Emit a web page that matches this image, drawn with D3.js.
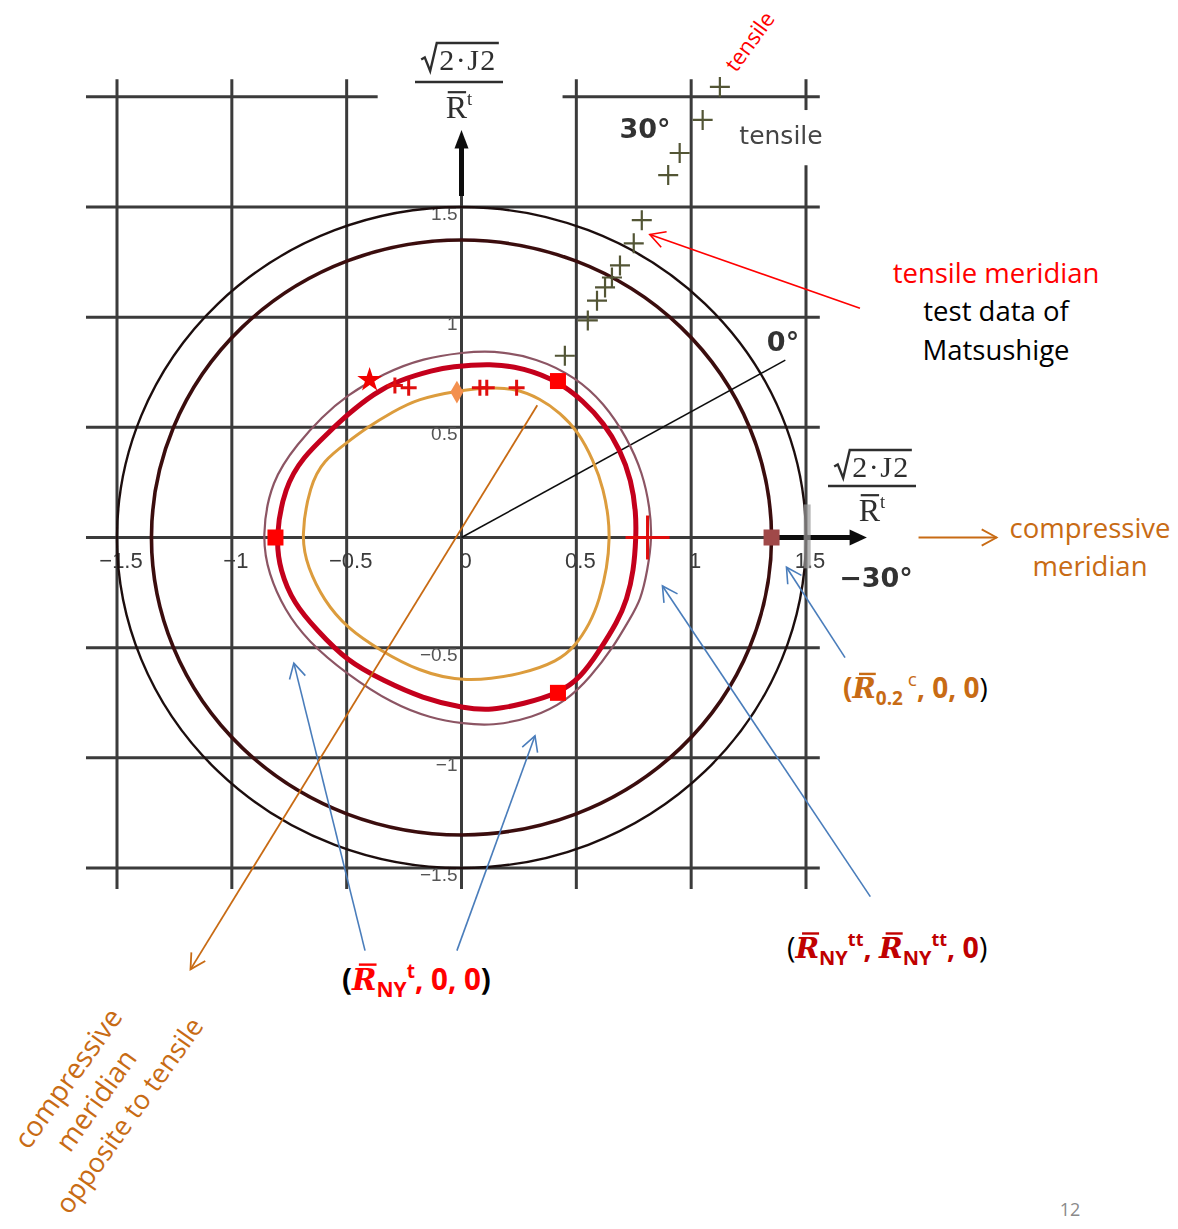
<!DOCTYPE html>
<html>
<head>
<meta charset="utf-8">
<script src="https://cdn.jsdelivr.net/npm/d3@7"></script>
<style>
  body { margin: 0; background: #fff; }
  svg { display: block; }
</style>
</head>
<body>
<svg id="chart" width="1178" height="1229"></svg>
<script>
// ---- grid and tick values (deviatoric plane, √(2·J2)/R̄t units) ----
const xTicks = [-1.5, -1, -0.5, 0, 0.5, 1, 1.5];
const yTicks = [-1.5, -1, -0.5, 0, 0.5, 1, 1.5, 2];
const xTickLabels = ["−1.5", "−1", "−0.5", "0", "0.5", "1", "1.5"];
const yTickValues = [-1.5, -1, -0.5, 0.5, 1, 1.5];
const yTickLabels = ["−1.5", "−1", "−0.5", "0.5", "1", "1.5"];

// reference circles
const circleRadii = [1.5, 1.35];

// yield loci, [x, y] points around the origin
const redLocus = [
  [-0.81, 0], [-0.79, -0.15], [-0.73, -0.30], [-0.63, -0.42], [-0.50, -0.56], [-0.34, -0.65],
  [-0.17, -0.73], [0.01, -0.775], [0.13, -0.785], [0.27, -0.755], [0.42, -0.71], [0.52, -0.635],
  [0.60, -0.515], [0.68, -0.38], [0.72, -0.285], [0.75, -0.15], [0.76, 0], [0.76, 0.11],
  [0.74, 0.26], [0.69, 0.40], [0.62, 0.52], [0.53, 0.62], [0.42, 0.71], [0.27, 0.77],
  [0.13, 0.79], [-0.05, 0.775], [-0.12, 0.76], [-0.27, 0.715], [-0.38, 0.655], [-0.50, 0.555],
  [-0.58, 0.475], [-0.69, 0.365], [-0.77, 0.23]
];
const outerLocus = [
  [-0.87, 0], [-0.84, -0.165], [-0.77, -0.33], [-0.67, -0.47], [-0.50, -0.62], [-0.30, -0.755],
  [-0.135, -0.82], [0.01, -0.845], [0.13, -0.855], [0.31, -0.82], [0.46, -0.74], [0.56, -0.635],
  [0.66, -0.50], [0.735, -0.365], [0.78, -0.285], [0.81, -0.15], [0.83, 0], [0.82, 0.135],
  [0.79, 0.29], [0.72, 0.455], [0.62, 0.61], [0.50, 0.725], [0.33, 0.815], [0.13, 0.85],
  [0.01, 0.84], [-0.165, 0.815], [-0.34, 0.745], [-0.50, 0.645], [-0.61, 0.545], [-0.71, 0.43],
  [-0.83, 0.26]
];
const orangeLocus = [
  [-0.70, 0], [-0.67, -0.135], [-0.60, -0.285], [-0.50, -0.41], [-0.35, -0.515], [-0.19, -0.605],
  [0.01, -0.66], [0.27, -0.62], [0.42, -0.56], [0.49, -0.50], [0.56, -0.39], [0.60, -0.285],
  [0.635, -0.135], [0.645, 0], [0.64, 0.09], [0.62, 0.215], [0.575, 0.35], [0.505, 0.485],
  [0.43, 0.565], [0.345, 0.63], [0.225, 0.68], [0.10, 0.68], [-0.02, 0.665], [-0.19, 0.63],
  [-0.30, 0.57], [-0.41, 0.50], [-0.50, 0.43], [-0.60, 0.35], [-0.66, 0.24]
];

// tensile meridian test data of Matsushige
const testData = [
  [1.125, 2.045], [1.05, 1.895], [0.95, 1.745], [0.90, 1.645], [0.785, 1.44], [0.75, 1.335],
  [0.69, 1.235], [0.655, 1.18], [0.625, 1.135], [0.59, 1.075], [0.55, 0.985], [0.45, 0.825]
];

// markers on the loci
const redSquares = [[-0.81, 0], [0.42, 0.71], [0.42, -0.705]];
const compressionPoint = [[1.35, 0]];
const redPlus = [[-0.29, 0.69], [-0.23, 0.68], [0.08, 0.68], [0.11, 0.68], [0.24, 0.68]];
const bigRedPlus = [[0.81, 0]];
const redStar = [[-0.40, 0.715]];
const orangeDiamond = [[-0.02, 0.66]];

// meridian direction (0°)
const zeroDegLine = [[0, 0], [1.41, 0.805]];

// annotation arrows, [from, to] in plot units
const blueArrows = [
  [[-0.42, -1.875], [-0.73, -0.57]],
  [[-0.02, -1.875], [0.32, -0.90]],
  [[1.78, -1.63], [0.875, -0.22]],
  [[1.67, -0.545], [1.415, -0.135]]
];
const redArrows = [[[1.735, 1.04], [0.82, 1.375]]];
const orangeArrows = [
  [[0.33, 0.60], [-1.18, -1.96]],
  [[1.99, 0], [2.33, 0]]
];

// ---------------------------------------------------------------
const svg = d3.select("#chart");
const x = d3.scaleLinear().domain([-1.5, 1.5]).range([117, 806]);
const y = d3.scaleLinear().domain([-1.5, 1.5]).range([868, 207]);

const defs = svg.append("defs");
defs.append("filter").attr("id", "soft")
  .append("feGaussianBlur").attr("stdDeviation", 0.75);

const plot = svg.append("g").attr("filter", "url(#soft)");

const gridColor = "#3b3b3b";
const ORANGE = "#c86b14";
const BLUE = "#4a7dbb";

// horizontal grid lines
yTicks.forEach(v => {
  const segs = v === 2 ? [[-1.635, -0.365], [0.44, 1.56]] : v === 0 ? [[-1.635, 1.40]] : [[-1.635, 1.56]];
  segs.forEach(s => plot.append("line")
    .attr("x1", x(s[0])).attr("x2", x(s[1]))
    .attr("y1", y(v)).attr("y2", y(v))
    .attr("stroke", gridColor).attr("stroke-width", 3));
});
// vertical grid lines
xTicks.forEach(v => {
  let segs;
  if (v === 1.5) segs = [[-1.595, 1.69], [1.94, 2.08]];
  else if (v === 0) segs = [[-1.595, 1.78]];
  else segs = [[-1.595, 2.08]];
  segs.forEach(s => plot.append("line")
    .attr("x1", x(v)).attr("x2", x(v))
    .attr("y1", y(s[0])).attr("y2", y(s[1]))
    .attr("stroke", gridColor).attr("stroke-width", 3));
});

// axis arrows
plot.append("line").attr("x1", x(1.38)).attr("x2", x(1.705)).attr("y1", y(0)).attr("y2", y(0))
  .attr("stroke", "#111").attr("stroke-width", 5);
plot.append("path")
  .attr("d", `M${x(1.765)},${y(0)} L${x(1.69)},${y(0) - 8} L${x(1.69)},${y(0) + 8} Z`)
  .attr("fill", "#111");
plot.append("line").attr("x1", x(0)).attr("x2", x(0)).attr("y1", y(1.55)).attr("y2", y(1.77))
  .attr("stroke", "#111").attr("stroke-width", 5);
plot.append("path")
  .attr("d", `M${x(0)},${y(1.85)} L${x(0) - 7},${y(1.765)} L${x(0) + 7},${y(1.765)} Z`)
  .attr("fill", "#111");

// x tick labels
xTicks.forEach((v, i) => {
  plot.append("text").attr("x", x(v) + 4).attr("y", y(0) + 30)
    .attr("text-anchor", "middle").attr("font-family", "Liberation Sans, sans-serif")
    .attr("font-size", 22).attr("fill", "#3a3a3a").text(xTickLabels[i]);
});
// y tick labels
yTickValues.forEach((v, i) => {
  plot.append("text").attr("x", x(0) - 4).attr("y", y(v) + 13)
    .attr("text-anchor", "end").attr("font-family", "Liberation Sans, sans-serif")
    .attr("font-size", 19).attr("fill", "#555").text(yTickLabels[i]);
});

// reference circles
const circleStyles = [
  { stroke: "#1c1010", width: 2.4 },
  { stroke: "#3a0c10", width: 3.6 }
];
circleRadii.forEach((r, i) => {
  plot.append("ellipse")
    .attr("cx", x(0)).attr("cy", y(0))
    .attr("rx", x(r) - x(0)).attr("ry", y(0) - y(r))
    .attr("fill", "none").attr("stroke", circleStyles[i].stroke)
    .attr("stroke-width", circleStyles[i].width);
});
// grey band on the outer circle at the compressive meridian
plot.append("line").attr("x1", x(1.505)).attr("x2", x(1.505)).attr("y1", y(0.15)).attr("y2", y(-0.14))
  .attr("stroke", "#999").attr("stroke-width", 7).attr("opacity", 0.7);

// 0° direction line
plot.append("line")
  .attr("x1", x(zeroDegLine[0][0])).attr("y1", y(zeroDegLine[0][1]))
  .attr("x2", x(zeroDegLine[1][0])).attr("y2", y(zeroDegLine[1][1]))
  .attr("stroke", "#111").attr("stroke-width", 1.6);

// yield loci (smoothed closed B-splines through the read points)
const closed = d3.line().x(d => x(d[0])).y(d => y(d[1])).curve(d3.curveBasisClosed);
plot.append("path").attr("d", closed(outerLocus)).attr("fill", "none")
  .attr("stroke", "#8c5464").attr("stroke-width", 2.2);
plot.append("path").attr("d", closed(orangeLocus)).attr("fill", "none")
  .attr("stroke", "#dc9c3c").attr("stroke-width", 3);
plot.append("path").attr("d", closed(redLocus)).attr("fill", "none")
  .attr("stroke", "#c4001c").attr("stroke-width", 5);

// plus markers
function plus(g, pts, half, color, width) {
  pts.forEach(p => {
    const cx = x(p[0]), cy = y(p[1]);
    g.append("path")
      .attr("d", `M${cx - half},${cy} H${cx + half} M${cx},${cy - half} V${cy + half}`)
      .attr("stroke", color).attr("stroke-width", width).attr("fill", "none");
  });
}
plus(plot, testData, 10, "#525536", 2.2);
plus(plot, redPlus, 8, "#e01010", 3);
plus(plot, bigRedPlus, 22, "#e01010", 3);

// squares
plot.selectAll(".sq").data(redSquares).join("rect")
  .attr("x", d => x(d[0]) - 8).attr("y", d => y(d[1]) - 8)
  .attr("width", 16).attr("height", 16).attr("fill", "#ff0000");
plot.selectAll(".cp").data(compressionPoint).join("rect")
  .attr("x", d => x(d[0]) - 8).attr("y", d => y(d[1]) - 8)
  .attr("width", 16).attr("height", 16).attr("fill", "#a04848");
plot.selectAll(".st").data(redStar).join("path")
  .attr("transform", d => `translate(${x(d[0])},${y(d[1])})`)
  .attr("d", d3.symbol().type(d3.symbolStar).size(190)).attr("fill", "#f00000");
plot.selectAll(".dm").data(orangeDiamond).join("path")
  .attr("transform", d => `translate(${x(d[0])},${y(d[1])})`)
  .attr("d", d3.symbol().type(d3.symbolDiamond).size(150)).attr("fill", "#f39050");

// ---- axis fraction labels: √(2·J2) / R̄t ----
function fraction(g, cx, numBase, barY, denBase, size) {
  const num = g.append("text").attr("y", numBase)
    .attr("font-family", "Liberation Serif, serif").attr("font-size", size)
    .attr("letter-spacing", 1.5).attr("fill", "#2f2f2f").text("2·J2");
  const w = num.node().getComputedTextLength();
  const rad = size * 0.6;
  const x0 = cx - (w + rad) / 2;
  num.attr("x", x0 + rad);
  const top = numBase - size * 0.9;
  g.append("path")
    .attr("d", `M${x0},${numBase - size * 0.35} L${x0 + size * 0.12},${numBase - size * 0.42} L${x0 + size * 0.3},${numBase + 1} L${x0 + size * 0.52},${top} L${x0 + rad + w + 2},${top}`)
    .attr("fill", "none").attr("stroke", "#2f2f2f").attr("stroke-width", 2.4);
  g.append("line").attr("x1", cx - 44).attr("x2", cx + 44).attr("y1", barY).attr("y2", barY)
    .attr("stroke", "#2f2f2f").attr("stroke-width", 2.6);
  const den = g.append("text").attr("x", cx).attr("y", denBase).attr("text-anchor", "middle")
    .attr("font-family", "Liberation Serif, serif").attr("font-size", size + 2).attr("fill", "#2f2f2f");
  den.append("tspan").text("R");
  den.append("tspan").attr("dy", -size * 0.45).attr("font-size", size * 0.62).text("t");
  const e = den.node().getExtentOfChar(0);
  g.append("line").attr("x1", e.x + 2).attr("x2", e.x + e.width - 1)
    .attr("y1", denBase - size * 0.86).attr("y2", denBase - size * 0.86)
    .attr("stroke", "#2f2f2f").attr("stroke-width", 2.2);
}
fraction(plot, 459, 70, 82, 118, 30);
fraction(plot, 872, 477, 486, 521, 30);

// angle / meridian labels inside the figure
const labelFont = "DejaVu Sans, sans-serif";
plot.append("text").attr("x", 645).attr("y", 138).attr("text-anchor", "middle")
  .attr("font-family", labelFont).attr("font-weight", 700).attr("font-size", 27)
  .attr("fill", "#333").text("30°");
plot.append("text").attr("x", 781).attr("y", 144).attr("text-anchor", "middle")
  .attr("font-family", labelFont).attr("font-size", 25)
  .attr("fill", "#444").text("tensile");
plot.append("text").attr("x", 783).attr("y", 351).attr("text-anchor", "middle")
  .attr("font-family", labelFont).attr("font-weight", 700).attr("font-size", 27)
  .attr("fill", "#333").text("0°");
plot.append("text").attr("x", 876).attr("y", 587).attr("text-anchor", "middle")
  .attr("font-family", labelFont).attr("font-weight", 700).attr("font-size", 27)
  .attr("fill", "#333").text("−30°");

// ---- annotations ----
const ann = svg.append("g");
function arrow(g, seg, color, width) {
  const x1 = x(seg[0][0]), y1 = y(seg[0][1]), x2 = x(seg[1][0]), y2 = y(seg[1][1]);
  g.append("line").attr("x1", x1).attr("y1", y1).attr("x2", x2).attr("y2", y2)
    .attr("stroke", color).attr("stroke-width", width);
  const a = Math.atan2(y2 - y1, x2 - x1), L = 17, th = 0.5;
  const p1 = [x2 - L * Math.cos(a - th), y2 - L * Math.sin(a - th)];
  const p2 = [x2 - L * Math.cos(a + th), y2 - L * Math.sin(a + th)];
  g.append("path").attr("d", `M${p1} L${x2},${y2} L${p2}`)
    .attr("fill", "none").attr("stroke", color).attr("stroke-width", width);
}
blueArrows.forEach(s => arrow(ann, s, BLUE, 1.6));
redArrows.forEach(s => arrow(ann, s, "#ff0000", 1.6));
orangeArrows.forEach(s => arrow(ann, s, ORANGE, 1.8));

const sans = "Open Sans, sans-serif";
function txt(g, px, py, s, color, size, extra) {
  const t = g.append("text").attr("x", px).attr("y", py).attr("text-anchor", "middle")
    .attr("font-family", sans).attr("font-size", size).attr("fill", color).text(s);
  if (extra) extra(t);
  return t;
}
txt(ann, 996, 283, "tensile meridian", "#ff0000", 27.5);
txt(ann, 996, 321, "test data of", "#000", 27.5);
txt(ann, 996, 360, "Matsushige", "#000", 27.5);
txt(ann, 1090, 538, "compressive", ORANGE, 27.5);
txt(ann, 1090, 576, "meridian", ORANGE, 27.5);
txt(ann, 0, 0, "tensile", "#ff0000", 22, t => t.attr("transform", "translate(756,46) rotate(-54)"));
txt(ann, 0, 0, "compressive", ORANGE, 28, t => t.attr("transform", "translate(76,1084) rotate(-54.5)"));
txt(ann, 0, 0, "meridian", ORANGE, 28, t => t.attr("transform", "translate(104,1106) rotate(-54.5)"));
txt(ann, 0, 0, "opposite  to tensile", ORANGE, 27, t => t.attr("transform", "translate(137,1121) rotate(-54.5)"));
txt(ann, 1070, 1216, "12", "#8a8a8a", 18);

// rich point labels, e.g. (R̄NY t, 0, 0)
function rich(g, px, py, size, parts) {
  const t = g.append("text").attr("x", px).attr("y", py)
    .attr("font-family", sans).attr("font-weight", 700).attr("font-size", size);
  let shift = 0, idx = 0;
  const bars = [];
  parts.forEach(p => {
    const s = p.shift || 0;
    const ts = t.append("tspan").attr("dy", s - shift).text(p.t).attr("fill", p.fill);
    shift = s;
    if (p.size) ts.attr("font-size", p.size);
    if (p.serif) ts.attr("font-family", "DejaVu Serif, serif").attr("font-style", "italic");
    if (p.w) ts.attr("font-weight", p.w);
    if (p.bar) bars.push({ i: idx, fill: p.fill });
    idx += p.t.length;
  });
  bars.forEach(b => {
    const e = t.node().getExtentOfChar(b.i);
    g.append("line").attr("x1", e.x + e.width * 0.28).attr("x2", e.x + e.width * 1.0)
      .attr("y1", py - size * 0.86).attr("y2", py - size * 0.86)
      .attr("stroke", b.fill).attr("stroke-width", 2.4);
  });
  return t;
}
const RED = "#ff0000", DRED = "#c00000";
rich(ann, 843, 698, 28, [
  { t: "(", fill: ORANGE },
  { t: "R", fill: ORANGE, serif: true, bar: true },
  { t: "0.2", fill: ORANGE, size: 19, shift: 7 },
  { t: " c", fill: ORANGE, size: 19, shift: -12, w: 400 },
  { t: ", 0, 0", fill: ORANGE },
  { t: ")", fill: "#000", w: 400 }
]);
rich(ann, 787, 958, 28.5, [
  { t: "(", fill: "#000", w: 400 },
  { t: "R", fill: DRED, serif: true, bar: true },
  { t: "NY", fill: DRED, size: 20, shift: 7 },
  { t: "tt", fill: DRED, size: 18, shift: -12 },
  { t: ", ", fill: DRED },
  { t: "R", fill: DRED, serif: true, bar: true },
  { t: "NY", fill: DRED, size: 20, shift: 7 },
  { t: "tt", fill: DRED, size: 18, shift: -12 },
  { t: ", 0", fill: DRED },
  { t: ")", fill: "#000", w: 400 }
]);
rich(ann, 342, 990, 29.5, [
  { t: "(", fill: "#000" },
  { t: "R", fill: RED, serif: true, bar: true },
  { t: "NY", fill: RED, size: 21, shift: 7 },
  { t: "t", fill: RED, size: 19, shift: -12 },
  { t: ", 0, 0", fill: RED },
  { t: ")", fill: "#000" }
]);
</script>
</body>
</html>
